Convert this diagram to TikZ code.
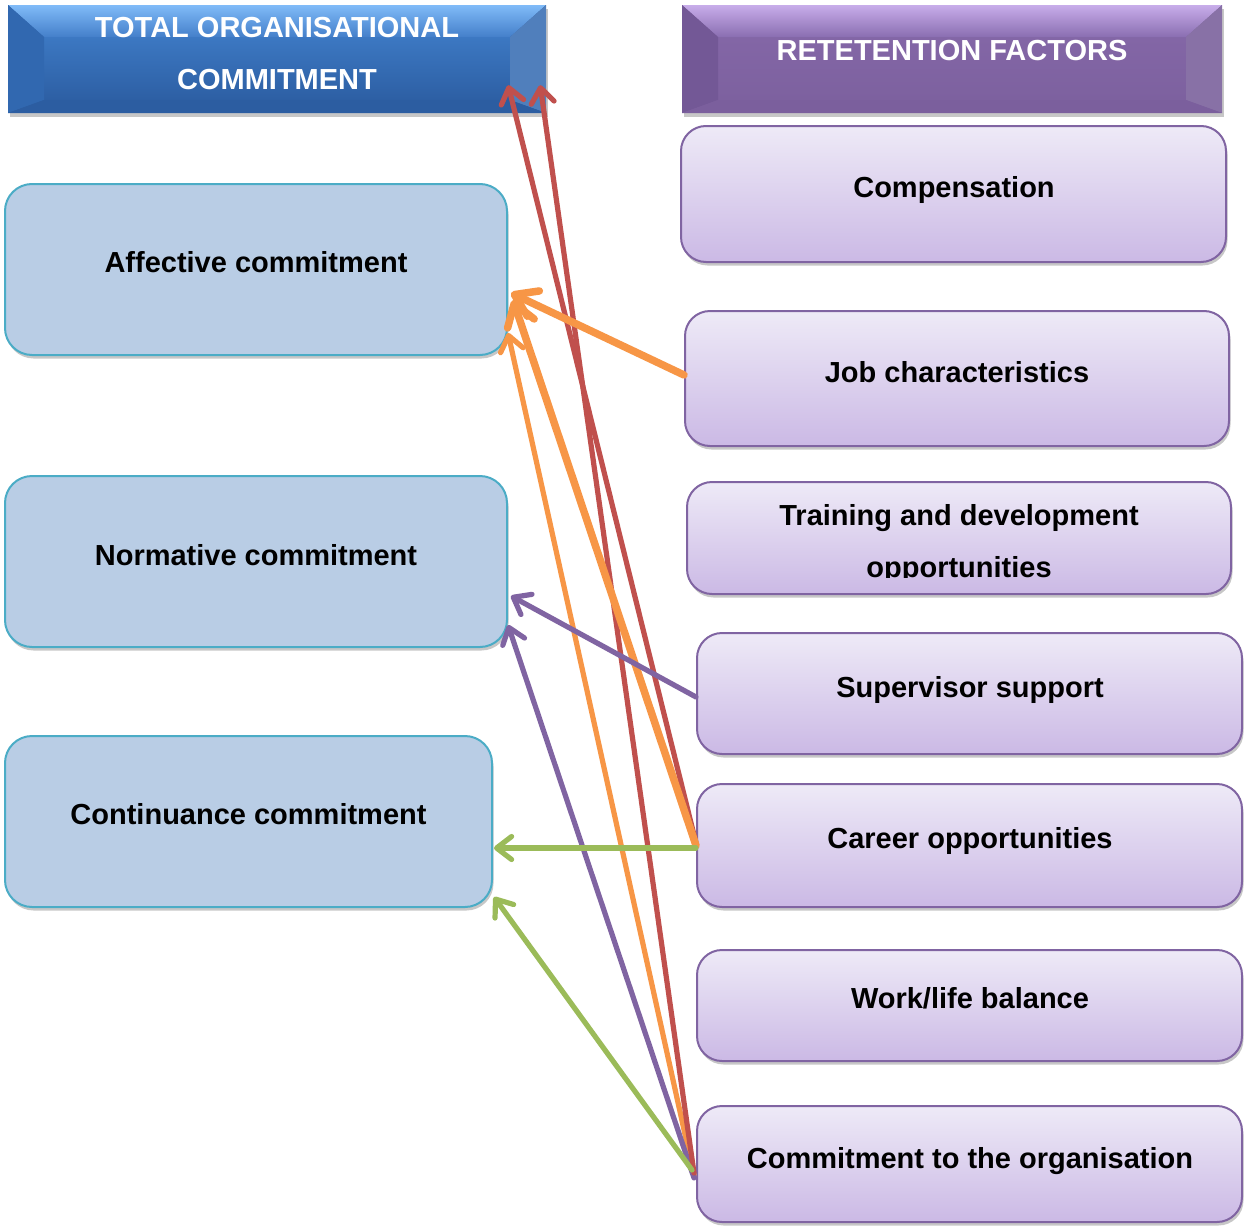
\documentclass[tikz,border=0pt]{standalone}
\usepackage{fontspec}
\setmainfont{Liberation Sans}
\usetikzlibrary{arrows.meta,shadows,calc}
\definecolor{lfill}{HTML}{B9CDE5}
\definecolor{lborder}{HTML}{4BACC6}
\definecolor{rborder}{HTML}{8064A2}
\definecolor{rtop}{HTML}{EEEAF7}
\definecolor{rbot}{HTML}{CBB9E5}
\definecolor{cRed}{HTML}{C0504D}
\definecolor{cOrange}{HTML}{F79646}
\definecolor{cPurple}{HTML}{8064A2}
\definecolor{cGreen}{HTML}{9BBB59}
\definecolor{bTopA}{HTML}{80BBF8}
\definecolor{bTopB}{HTML}{447FCA}
\definecolor{bFaceA}{HTML}{3C78C2}
\definecolor{bFaceB}{HTML}{2D5FA4}
\definecolor{bSide}{HTML}{3168B0}
\definecolor{bBot}{HTML}{2C5DA1}
\definecolor{pTopA}{HTML}{C8ADEA}
\definecolor{pTopB}{HTML}{8A6EB1}
\definecolor{pFaceA}{HTML}{8366A6}
\definecolor{pFaceB}{HTML}{7D619F}
\definecolor{pSide}{HTML}{735896}
\definecolor{pBot}{HTML}{7B5F9D}
\begin{document}
\begin{tikzpicture}[x=1pt,y=-1pt,
  txt/.style={font=\fontsize{29}{52}\selectfont\bfseries, inner sep=0pt, anchor=base},
  wtxt/.style={txt, text=white},
  shad/.style={drop shadow={shadow xshift=1.5pt,shadow yshift=-3.5pt,opacity=.22,fill=black}},
  lbox/.style={shad, draw=lborder, line width=2pt, fill=lfill, rounded corners=27pt, inner sep=0pt},
  rbox/.style={shad, draw=rborder, line width=2pt, top color=rtop, bottom color=rbot, rounded corners=25pt, inner sep=0pt},
  hdrbox/.style={shad, inner sep=0pt},
  arr/.style={line width=5.2pt, line cap=round, -{Straight Barb[length=15pt,width=23pt,round]}},
  arrT/.style={line width=7.5pt, line cap=round, -{Straight Barb[length=21pt,width=28pt,round]}}
]
\useasboundingbox (0,0) rectangle (1244,1226);
\fill[white] (0,0) rectangle (1244,1226);

% ---------- headers ----------
\node[hdrbox, fill=bFaceB, minimum width=538pt, minimum height=108pt] (hdrL) at (277,59) {};
\shade[top color=bFaceA, bottom color=bFaceB] (44,37) rectangle (510,100);
\shade[top color=bTopA, bottom color=bTopB] (8,5) -- (546,5) -- (510,37) -- (44,37) -- cycle;
\fill[bSide] (8,5) -- (44,37) -- (44,100) -- (8,113) -- cycle;
\fill[bSide!85!white] (546,5) -- (510,37) -- (510,100) -- (546,113) -- cycle;
\fill[bBot] (8,113) -- (44,100) -- (510,100) -- (546,113) -- cycle;
\node[wtxt] (hdrLa) at (277,37) {TOTAL ORGANISATIONAL};
\node[wtxt] (hdrLb) at (277,89) {COMMITMENT};

\node[hdrbox, fill=pFaceB, minimum width=540pt, minimum height=108pt] (hdrR) at (952,59) {};
\shade[top color=pFaceA, bottom color=pFaceB] (718,37) rectangle (1186,100);
\shade[top color=pTopA, bottom color=pTopB] (682,5) -- (1222,5) -- (1186,37) -- (718,37) -- cycle;
\fill[pSide] (682,5) -- (718,37) -- (718,100) -- (682,113) -- cycle;
\fill[pSide!85!white] (1222,5) -- (1186,37) -- (1186,100) -- (1222,113) -- cycle;
\fill[pBot] (682,113) -- (718,100) -- (1186,100) -- (1222,113) -- cycle;
\node[wtxt] (hdrRa) at (952,60) {RETETENTION FACTORS};

% ---------- left boxes ----------
\node[lbox, minimum width=502pt, minimum height=171pt] (aff) at (256,269.5) {};
\node[txt] (affT) at (256,272) {Affective commitment};
\node[lbox, minimum width=502pt, minimum height=171pt] (norm) at (256,561.5) {};
\node[txt] (normT) at (256,565) {Normative commitment};
\node[lbox, minimum width=487pt, minimum height=171pt] (cont) at (248.5,821.5) {};
\node[txt] (contT) at (248.5,824) {Continuance commitment};

% ---------- right boxes ----------
\node[rbox, minimum width=545pt, minimum height=136pt] (comp) at (953.5,194) {};
\node[txt] (compT) at (954,197) {Compensation};
\node[rbox, minimum width=544pt, minimum height=135pt] (job) at (957,378.5) {};
\node[txt] (jobT) at (957,382) {Job characteristics};
\node[rbox, minimum width=544pt, minimum height=112pt] (train) at (959,538) {};
\node[txt] (trainTa) at (959,525) {Training and development};
\begin{scope}
\clip (600,540) rectangle (1300,577.5);
\node[txt] (trainTb) at (959,577) {opportunities};
\end{scope}
\node[rbox, minimum width=545pt, minimum height=121pt] (sup) at (969.5,693.5) {};
\node[txt] (supT) at (970,697) {Supervisor support};
\node[rbox, minimum width=545pt, minimum height=123pt] (car) at (969.5,845.5) {};
\node[txt] (carT) at (970,848) {Career opportunities};
\node[rbox, minimum width=545pt, minimum height=111pt] (wlb) at (969.5,1005.5) {};
\node[txt] (wlbT) at (970,1008) {Work/life balance};
\node[rbox, minimum width=545pt, minimum height=116pt] (cto) at (969.5,1164) {};
\node[txt] (ctoT) at (970,1168) {Commitment to the organisation};

% ---------- connectors ----------
\draw[arr, cOrange] ([xshift=-2pt,yshift=-11pt]cto.west) -- ([yshift=-63.5pt]aff.east);
\draw[arr, cPurple] ([xshift=-2pt,yshift=-14pt]cto.west) -- ([yshift=-63.5pt]norm.east);
\draw[arr, cRed] ([xshift=-2pt,yshift=-9pt]cto.west) -- ([xshift=-6pt,yshift=28pt]hdrL.south east);
\draw[arr, cGreen] ([xshift=-4pt,yshift=-6pt]cto.west) -- ([xshift=1pt,yshift=-75.5pt]cont.east);
\draw[arr, cRed] ([yshift=2.5pt]car.west) -- ([xshift=-38pt,yshift=28pt]hdrL.south east);
\draw[arrT, cOrange] (car.west) -- ([xshift=5pt,yshift=-30.5pt]aff.east);
\draw[arr, cGreen] ([yshift=-2.5pt]car.west) -- ([xshift=1pt,yshift=-26.5pt]cont.east);
\draw[arr, cPurple] ([yshift=-3.5pt]sup.west) -- ([xshift=3pt,yshift=-34.5pt]norm.east);
\draw[arrT, cOrange] ([yshift=3.5pt]job.west) -- ([xshift=3pt,yshift=-23.5pt]aff.east);
\end{tikzpicture}
\end{document}
